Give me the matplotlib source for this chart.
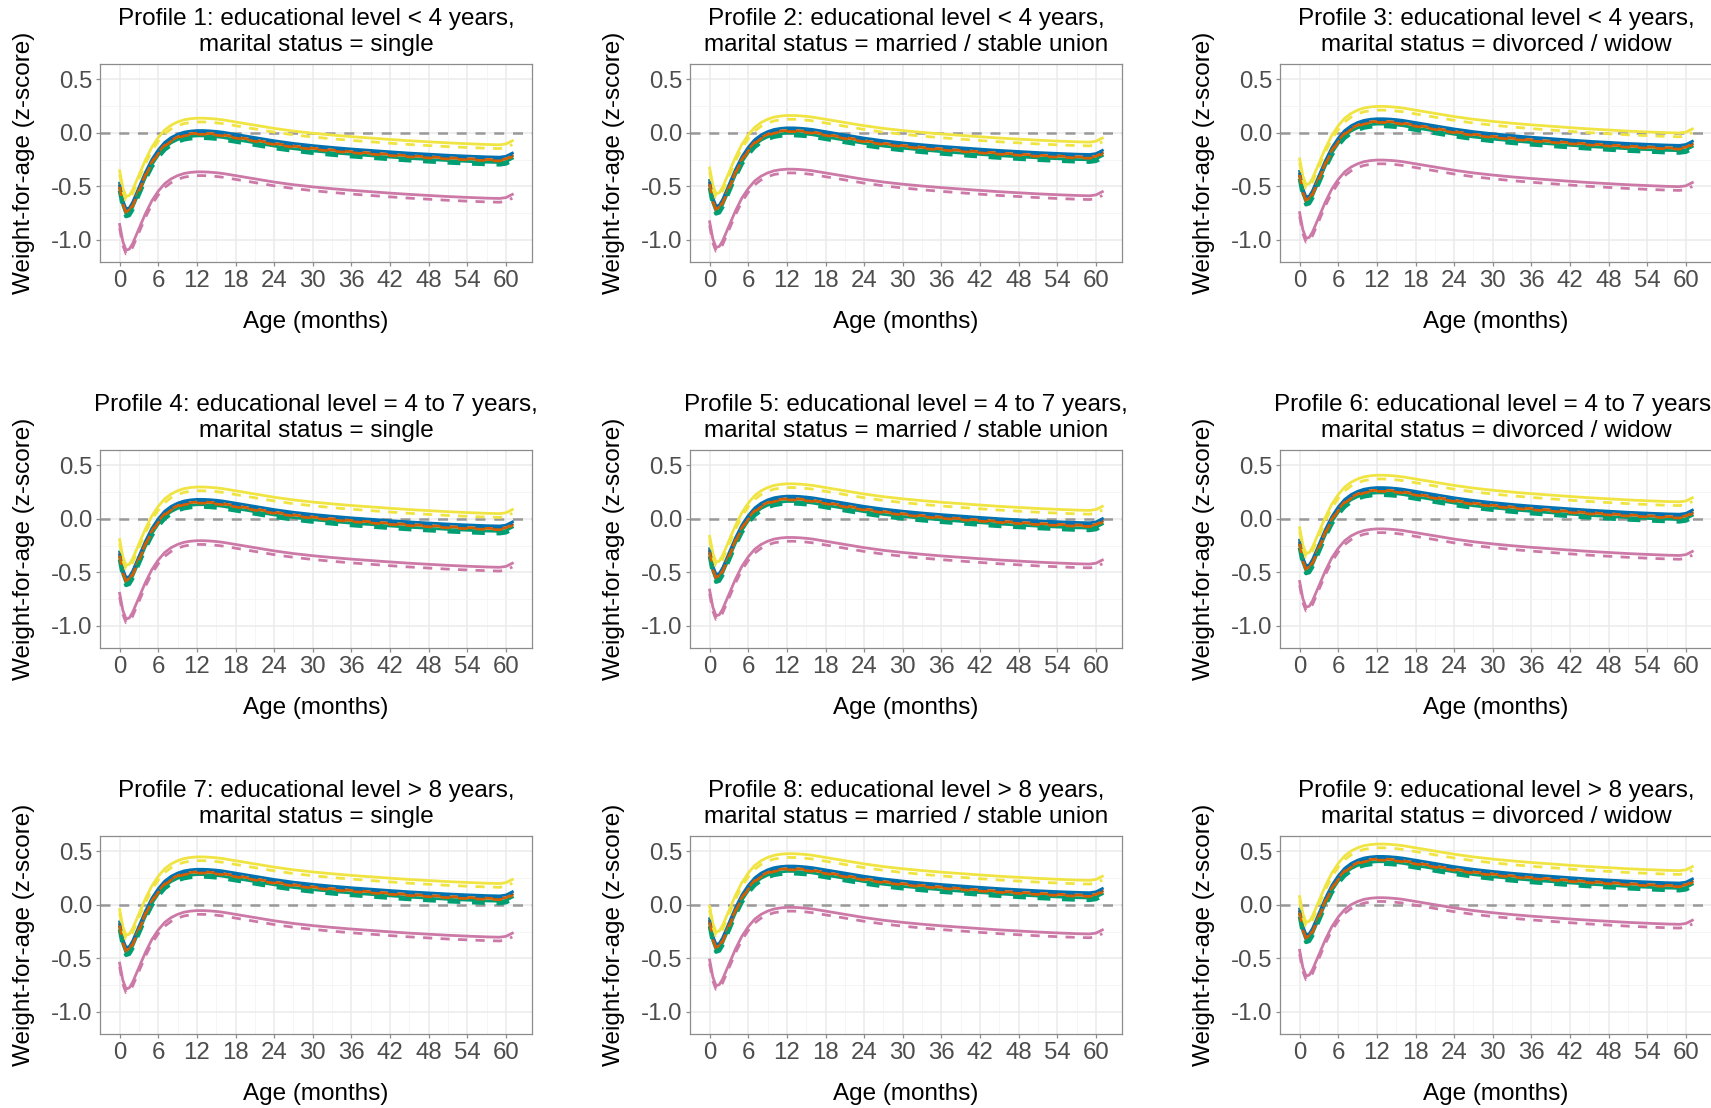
import numpy as np
import matplotlib
matplotlib.use("Agg")
import matplotlib.pyplot as plt

plt.rcParams['font.family'] = ['Liberation Sans', 'DejaVu Sans']
plt.rcParams['axes.unicode_minus'] = False

# ---- data ----
# reference curve: blue solid line of profile 1 (z-score by age)
ages = [0, 0.5, 1, 1.5, 2, 2.5, 3, 4, 5, 6, 7, 8, 9, 10, 11, 12, 13, 14, 15, 16,
        18, 20, 22, 24, 27, 30, 33, 36, 39, 42, 45, 48, 51, 54, 57, 59, 60, 61]
base_curve = [-0.47, -0.63, -0.71, -0.70, -0.65, -0.58, -0.51, -0.37, -0.25, -0.16,
              -0.09, -0.045, -0.015, 0.005, 0.015, 0.02, 0.02, 0.017, 0.012, 0.005,
              -0.015, -0.035, -0.055, -0.075, -0.10, -0.12, -0.137, -0.152, -0.165,
              -0.178, -0.19, -0.20, -0.21, -0.218, -0.225, -0.228, -0.22, -0.19]

# vertical shift of each profile panel relative to profile 1
profile_shift = [0.0, 0.025, 0.11, 0.16, 0.19, 0.27, 0.31, 0.34, 0.43]

titles = [
    "Profile 1: educational level < 4 years,\nmarital status = single",
    "Profile 2: educational level < 4 years,\nmarital status = married / stable union",
    "Profile 3: educational level < 4 years,\nmarital status = divorced / widow",
    "Profile 4: educational level = 4 to 7 years,\nmarital status = single",
    "Profile 5: educational level = 4 to 7 years,\nmarital status = married / stable union",
    "Profile 6: educational level = 4 to 7 years,\nmarital status = divorced / widow",
    "Profile 7: educational level > 8 years,\nmarital status = single",
    "Profile 8: educational level > 8 years,\nmarital status = married / stable union",
    "Profile 9: educational level > 8 years,\nmarital status = divorced / widow",
]

# groups: colour, dashed?, offset from the reference curve
group_colors = ['#0072B2', '#0072B2', '#009E73', '#009E73', '#D55E00', '#D55E00',
                '#CC79A7', '#CC79A7', '#F0E442', '#F0E442']
group_dashed = [False, True, False, True, False, True, False, True, False, True]
group_shift = [0.0, -0.015, -0.05, -0.07, -0.025, -0.035, -0.385, -0.42, 0.115, 0.08]

x_ticks = [0, 6, 12, 18, 24, 30, 36, 42, 48, 54, 60]
y_ticks = [-1.0, -0.5, 0.0, 0.5]
y_ticklabels = ['-1.0', '-0.5', '0.0', '0.5']

# ---- layout (pixels) ----
W, H = 1711, 1108
col_left = [100, 690, 1280]
row_top = [64, 450, 836]
pw, ph = 432, 198

fig = plt.figure(figsize=(W / 100, H / 100), dpi=100)

x = np.array(ages)
base = np.array(base_curve)

for i in range(9):
    r, c = i // 3, i % 3
    left, top = col_left[c], row_top[r]
    ax = fig.add_axes([left / W, 1 - (top + ph) / H, pw / W, ph / H])

    ax.set_xlim(-3.05, 64.05)
    ax.set_ylim(-1.205, 0.64)
    ax.set_xticks(x_ticks)
    ax.set_xticks([3, 9, 15, 21, 27, 33, 39, 45, 51, 57], minor=True)
    ax.set_yticks(y_ticks)
    ax.set_yticklabels(y_ticklabels)
    ax.set_yticks([-0.75, -0.25, 0.25], minor=True)
    ax.grid(which='major', color='#EBEBEB', lw=1.1)
    ax.grid(which='minor', color='#F4F4F4', lw=0.6)
    ax.set_axisbelow(True)
    ax.tick_params(which='major', length=3, width=0.9, color='#8C8C8C',
                   labelcolor='#4D4D4D', labelsize=17.3, pad=2.5)
    ax.tick_params(which='minor', length=0)
    for s in ax.spines.values():
        s.set_color('#8C8C8C')
        s.set_linewidth(0.9)

    ax.axhline(0, color='#999999', lw=1.8, dashes=(4, 3.5), zorder=1)

    for g in range(len(group_colors)):
        y = base + profile_shift[i] + group_shift[g]
        if group_dashed[g]:
            lw = 2.8 if group_colors[g] == '#009E73' else 2.0
            ax.plot(x, y, color=group_colors[g], lw=lw, dashes=(3.3, 3.0), zorder=3)
        else:
            ax.plot(x, y, color=group_colors[g], lw=2.0, zorder=2)

    # titles and axis labels at fixed pixel positions
    cx = left + pw / 2
    fig.text(cx / W, 1 - (top - 32) / H, titles[i], ha='center', va='center',
             fontsize=17.5, linespacing=1.22, color='black')
    fig.text(cx / W, 1 - (top + 258) / H, 'Age (months)', ha='center', va='center',
             fontsize=17.5, color='black')
    fig.text((left - 76) / W, 1 - (top + ph / 2) / H, 'Weight-for-age (z-score)',
             ha='center', va='center', rotation=90, fontsize=17.5, color='black')

fig.savefig('out.png', dpi=100, facecolor='white')
